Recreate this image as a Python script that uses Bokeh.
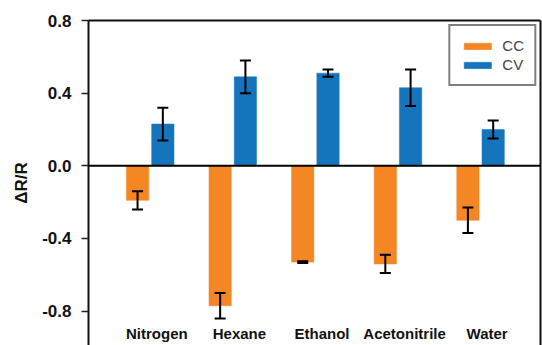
import numpy as np
from bokeh.plotting import figure
from bokeh.models import (ColumnDataSource, Range1d, LinearAxis, FixedTicker,
                          Whisker, TeeHead, Span, Legend, LegendItem)
from bokeh.core.properties import value
from bokeh.embed import file_html
from bokeh.resources import INLINE

# ---- data ----
categories = ["Nitrogen", "Hexane", "Ethanol", "Acetonitrile", "Water"]
cc_values = [-0.19, -0.77, -0.53, -0.54, -0.30]
cc_errors = [0.05, 0.07, 0.005, 0.05, 0.07]
cv_values = [0.23, 0.49, 0.51, 0.43, 0.20]
cv_errors = [0.09, 0.09, 0.02, 0.10, 0.05]
y_ticks = [-0.8, -0.4, 0.0, 0.4, 0.8]

# ---- style ----
ORANGE = "#F48624"
BLUE = "#1474BC"
FONT = "Liberation Sans"
OFFSET = 0.153
BAR_W = 0.27

idx = np.arange(len(categories))
cc_src = ColumnDataSource(dict(
    x=idx - OFFSET, top=cc_values,
    upper=np.array(cc_values) + np.array(cc_errors),
    lower=np.array(cc_values) - np.array(cc_errors)))
cv_src = ColumnDataSource(dict(
    x=idx + OFFSET, top=cv_values,
    upper=np.array(cv_values) + np.array(cv_errors),
    lower=np.array(cv_values) - np.array(cv_errors)))

p = figure(width=542, height=345, output_backend="svg", toolbar_location=None,
           x_range=Range1d(-0.747, 4.726), y_range=Range1d(-0.989, 0.8),
           x_axis_location=None, min_border_left=88, min_border_top=20,
           min_border_right=2, min_border_bottom=0)
p.grid.visible = False
p.outline_line_color = None
p.background_fill_color = "white"
p.border_fill_color = "white"

r_cc = p.vbar(x="x", top="top", bottom=0, width=BAR_W, source=cc_src,
              fill_color=ORANGE, line_color=ORANGE, line_alpha=0.5)
r_cv = p.vbar(x="x", top="top", bottom=0, width=BAR_W, source=cv_src,
              fill_color=BLUE, line_color=BLUE, line_alpha=0.5)

for src in (cc_src, cv_src):
    w = Whisker(base="x", upper="upper", lower="lower", source=src,
                level="annotation",
                line_color="black", line_width=2,
                upper_head=TeeHead(size=11, line_width=2, line_color="black"),
                lower_head=TeeHead(size=11, line_width=2, line_color="black"))
    p.add_layout(w)

p.add_layout(Span(location=0, dimension="width", line_color="black",
                  line_width=2, level="annotation"))

# category labels inside the plot
p.text(x=idx + 0.08, y=[-0.923] * len(categories), text=categories,
       text_align="center", text_baseline="middle",
       text_font=value(FONT), text_font_style="bold",
       text_font_size="15px", text_color="#111111")

# left axis
ax = p.yaxis[0]
ax.ticker = FixedTicker(ticks=y_ticks)
ax.major_label_overrides = {t: f"{t:.1f}" for t in y_ticks}
ax.major_label_text_font = FONT
ax.major_label_text_font_style = "bold"
ax.major_label_text_font_size = "17px"
ax.major_label_text_color = "#111111"
ax.major_label_standoff = 10
ax.major_tick_out = 7
ax.major_tick_in = 0
ax.major_tick_line_width = 1.5
ax.major_tick_line_color = "#222222"
ax.minor_tick_line_color = None
ax.axis_line_width = 2
ax.axis_line_color = "#111111"
ax.axis_label = "ΔR/R"
ax.axis_label_text_font = FONT
ax.axis_label_text_font_style = "bold"
ax.axis_label_text_font_size = "17px"
ax.axis_label_text_color = "#111111"
ax.axis_label_standoff = 8

# frame lines on top and right
top_ax = LinearAxis(ticker=FixedTicker(ticks=[]), axis_line_width=2,
                    axis_line_color="#111111", major_tick_line_color=None,
                    minor_tick_line_color=None)
p.add_layout(top_ax, "above")
right_ax = LinearAxis(ticker=FixedTicker(ticks=[]),
                      axis_line_width=2, axis_line_color="#111111",
                      major_tick_line_color=None, minor_tick_line_color=None)
p.add_layout(right_ax, "right")

legend = Legend(items=[LegendItem(label="CC", renderers=[r_cc]),
                       LegendItem(label="CV", renderers=[r_cv])],
                location="top_right", margin=4, padding=10, spacing=0,
                glyph_width=34, glyph_height=8, label_standoff=8,
                label_text_font=FONT, label_text_font_size="15px",
                label_height=19,
                border_line_color="black", border_line_width=2,
                background_fill_color="white", background_fill_alpha=1)
p.add_layout(legend)

open("out.html", "w").write(file_html(p, INLINE))
